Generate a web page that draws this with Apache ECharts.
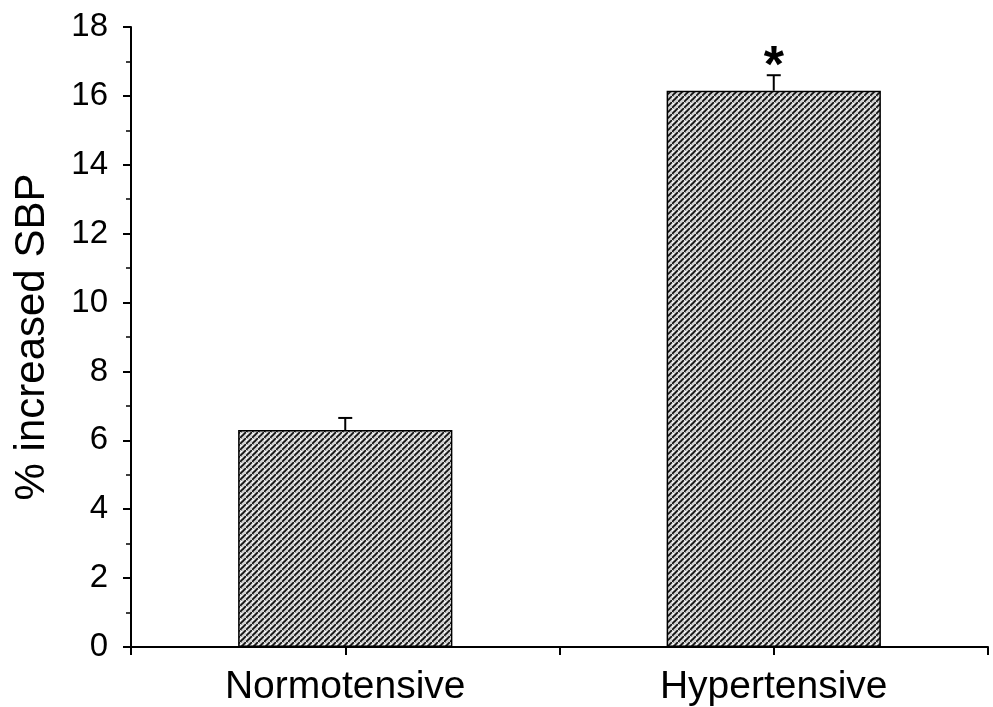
<!DOCTYPE html>
<html>
<head>
<meta charset="utf-8">
<script src="https://cdn.jsdelivr.net/npm/echarts@6/dist/echarts.min.js"></script>
<style>html,body{margin:0;padding:0;background:#fff;}#c{width:993px;height:707px;}</style>
</head>
<body>
<div id="c"></div>
<script>
const categories = ['Normotensive', 'Hypertensive'];
const means = [6.3, 16.15];
const errors = [0.35, 0.45];
const marks = ['', '*'];
const yTicks = [0, 18, 2];

function makePattern() {
  const s = 6;
  const c = document.createElement('canvas');
  c.width = s; c.height = s;
  const g = c.getContext('2d');
  g.fillStyle = '#d0d0d0';
  g.fillRect(0, 0, s, s);
  g.fillStyle = '#ffffff';
  g.fillRect(1, 1, 1, 1); g.fillRect(2, 2, 1, 1); g.fillRect(0, 2, 1, 1);
  g.fillStyle = '#999';
  g.fillRect(1, 0, 1, 1); g.fillRect(3, 3, 1, 1);
  g.strokeStyle = '#111';
  g.lineWidth = 1.7;
  g.beginPath();
  g.moveTo(-s, s * 2); g.lineTo(s * 2, -s);
  g.moveTo(-s * 2, s); g.lineTo(s, -s * 2);
  g.moveTo(0, s * 3); g.lineTo(s * 3, 0);
  g.stroke();
  return c;
}

const chart = echarts.init(document.getElementById('c'));
const font = 'Liberation Sans, Arial, sans-serif';
chart.setOption({
  animation: false,
  backgroundColor: '#fff',
  grid: { left: 131, right: 5, top: 27, bottom: 58 },
  xAxis: [{
    type: 'category', data: categories, boundaryGap: true,
    axisLine: { lineStyle: { color: '#000', width: 2 } },
    axisTick: { show: true, length: 8, lineStyle: { color: '#000', width: 2 } },
    axisLabel: { color: '#000', fontSize: 39, fontFamily: font, margin: 21 }
  }, {
    type: 'category', data: categories, position: 'bottom', boundaryGap: true,
    axisLine: { show: false },
    axisTick: { show: true, alignWithLabel: true, length: 8, lineStyle: { color: '#000', width: 2 } },
    axisLabel: { show: false }
  }],
  yAxis: {
    type: 'value', min: yTicks[0], max: yTicks[1], interval: yTicks[2],
    name: '% increased SBP', nameLocation: 'middle', nameGap: 78,
    nameTextStyle: { color: '#000', fontSize: 42, fontFamily: font },
    axisLine: { show: true, lineStyle: { color: '#000', width: 2 } },
    axisTick: { show: true, length: 8, lineStyle: { color: '#000', width: 2 } },
    minorTick: { show: true, splitNumber: 2, length: 5, lineStyle: { color: '#000', width: 1.5 } },
    splitLine: { show: false },
    axisLabel: { color: '#000', fontSize: 33, fontFamily: font, margin: 23 }
  },
  series: [{
    type: 'bar', data: means, barWidth: '50%',
    itemStyle: { color: { image: makePattern(), repeat: 'repeat' }, borderColor: '#000', borderWidth: 1.5 }
  }, {
    type: 'custom',
    data: means.map((m, i) => [i, m, errors[i], marks[i]]),
    renderItem: function (params, api) {
      const i = api.value(0);
      const top = api.coord([i, api.value(1) + api.value(2)]);
      const base = api.coord([i, api.value(1)]);
      const hw = 7;
      const children = [{
        type: 'line', shape: { x1: base[0], y1: base[1], x2: top[0], y2: top[1] },
        style: { stroke: '#000', lineWidth: 2 }
      }, {
        type: 'line', shape: { x1: top[0] - hw, y1: top[1], x2: top[0] + hw, y2: top[1] },
        style: { stroke: '#000', lineWidth: 2 }
      }];
      const mk = marks[i];
      if (mk) {
        children.push({
          type: 'text',
          style: { text: mk, x: top[0], y: top[1] + 18, align: 'center', verticalAlign: 'bottom',
            fontSize: 52, fontWeight: 'bold', fontFamily: font, fill: '#000' }
        });
      }
      return { type: 'group', children: children };
    },
    z: 5
  }]
});
</script>
</body>
</html>
